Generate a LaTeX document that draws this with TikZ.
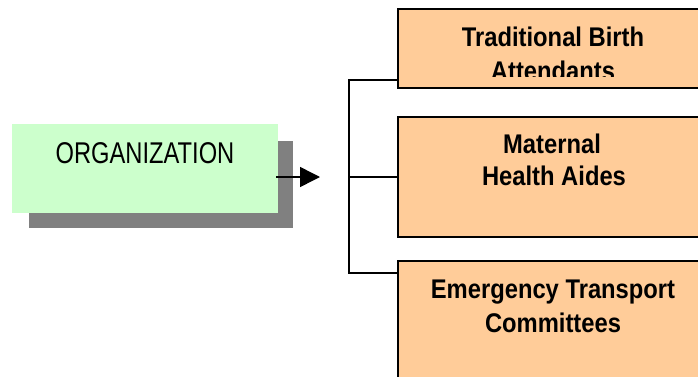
\documentclass[tikz,border=0pt]{standalone}
\usepackage{fontspec}
\usetikzlibrary{arrows.meta}
\newfontfamily\orgfont[FakeStretch=0.79]{Liberation Sans}
\newfontfamily\unitfont[FakeStretch=0.88]{Liberation Sans Bold}
\definecolor{orggreen}{HTML}{CCFFCC}
\definecolor{unitorange}{HTML}{FFCC99}
\definecolor{shadowgrey}{HTML}{808080}
\begin{document}
\begin{tikzpicture}[x=1pt,y=-1pt,
  unitbox/.style={draw=black,line width=1.6pt,fill=unitorange,rectangle,inner sep=0pt,anchor=north west},
  unitlabel/.style={font=\unitfont\fontsize{27}{34}\selectfont,anchor=base,inner sep=0pt},
  link/.style={draw=black,line width=1.5pt},
  flow/.style={draw=black,line width=1.5pt,-{Triangle[length=20pt,width=20pt]}}]
\useasboundingbox (0,0) rectangle (698,377);
\begin{scope}
\clip (0,0) rectangle (698,377);
% organization block with its drop shadow
\node[fill=shadowgrey,minimum width=264pt,minimum height=87pt,inner sep=0pt,anchor=north west] (orgshadow) at (29,141) {};
\node[fill=orggreen,minimum width=266pt,minimum height=89pt,inner sep=0pt,anchor=north west] (org) at (12,124) {};
\node[font=\orgfont\fontsize{30}{34}\selectfont,anchor=base,inner sep=0pt] (orgtext) at (145,163) {ORGANIZATION};
% unit boxes (they run past the right edge)
\node[unitbox,minimum width=313pt,minimum height=79pt] (tba) at (397,8) {};
\node[unitbox,minimum width=313pt,minimum height=120pt] (mha) at (397,116) {};
\node[unitbox,minimum width=313pt,minimum height=140pt] (etc) at (397,260) {};
% labels
\node[unitlabel] (tba1) at (553,47) {Traditional Birth};
\begin{scope}
\clip (397,8) rectangle (710,77);
\node[unitlabel] (tba2) at (553,81) {Attendants};
\end{scope}
\node[unitlabel] (mha1) at (552,153) {Maternal};
\node[unitlabel] (mha2) at (554,185) {Health Aides};
\node[unitlabel] (etc1) at (553,298) {Emergency Transport};
\node[unitlabel] (etc2) at (553,332) {Committees};
% bracket joining the units
\coordinate (bustop) at (349,80);
\coordinate (busmid) at (349,177);
\coordinate (busbot) at (349,273);
\draw[link] (tba.west |- bustop) -- (bustop) -- (busbot) -- (etc.west |- busbot);
\draw[link] (busmid) -- (mha.west |- busmid);
% flow arrow
\coordinate (flowstart) at (276,177);
\coordinate (flowend) at (320,177);
\draw[flow] (flowstart) -- (flowend);
\end{scope}
\end{tikzpicture}
\end{document}
